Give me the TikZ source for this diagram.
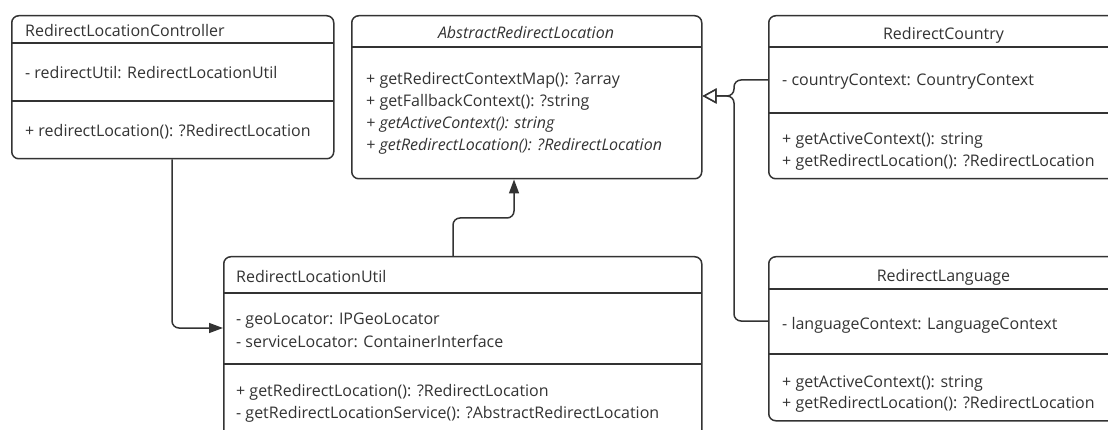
\documentclass[tikz,border=0pt]{standalone}
\usepackage{fontspec}
\setmainfont{Open Sans}
\usetikzlibrary{arrows.meta,calc}
\definecolor{ink}{HTML}{333333}
\begin{document}
\begin{tikzpicture}[x=1pt,y=-1pt,
  umlbox/.style={draw=ink, line width=1.5pt, rounded corners=7pt, inner sep=0pt, anchor=north west},
  txt/.style={anchor=base west, inner sep=0pt, text=ink, font=\fontsize{16}{22}\selectfont},
  ctxt/.style={txt, anchor=base},
  rule/.style={draw=ink, line width=1.5pt},
  conn/.style={draw=ink, line width=1.5pt, rounded corners=7pt},
  assoc/.style={conn, -{Triangle[length=14pt,width=10pt]}},
  inherit/.style={conn, -{Triangle[open, length=14pt, width=15pt, fill=white]}}
]
\useasboundingbox (0,0) rectangle (1108,430);
\clip (0,0) rectangle (1108,430);
\fill[white] (0,0) rectangle (1108,430);

% RedirectLocationController
\node[umlbox, minimum width=322pt, minimum height=143pt] (ctrl) at (11,15) {};
\draw[rule] (11,43) -- (333,43);
\draw[rule] (11,101) -- (333,101);
\node[txt] (ctrlT) at (25,37) {RedirectLocationController};
\node[txt] (ctrlA) at (25,79) {- redirectUtil: RedirectLocationUtil};
\node[txt] (ctrlM) at (25,137) {+ redirectLocation(): ?RedirectLocation};

% AbstractRedirectLocation
\node[umlbox, minimum width=350pt, minimum height=163pt] (abs) at (351,15) {};
\draw[rule] (351,47) -- (701,47);
\node[ctxt] (absT) at (526,39) {\itshape AbstractRedirectLocation};
\node[txt] (absM1) at (366,85) {+ getRedirectContextMap(): ?array};
\node[txt] (absM2) at (366,107) {+ getFallbackContext(): ?string};
\node[txt] (absM3) at (366,129) {\itshape + getActiveContext(): string};
\node[txt] (absM4) at (366,151) {\itshape + getRedirectLocation(): ?RedirectLocation};

% RedirectCountry
\node[umlbox, minimum width=351pt, minimum height=163pt] (country) at (768,15) {};
\draw[rule] (768,47) -- (1119,47);
\draw[rule] (768,113) -- (1119,113);
\node[ctxt] (countryT) at (943.5,40) {RedirectCountry};
\node[txt] (countryA) at (782,86) {- countryContext: CountryContext};
\node[txt] (countryM1) at (782,145) {+ getActiveContext(): string};
\node[txt] (countryM2) at (782,167) {+ getRedirectLocation(): ?RedirectLocation};

% RedirectLanguage
\node[umlbox, minimum width=351pt, minimum height=164pt] (lang) at (768,256) {};
\draw[rule] (768,289) -- (1119,289);
\draw[rule] (768,354) -- (1119,354);
\node[ctxt] (langT) at (943.5,282) {RedirectLanguage};
\node[txt] (langA) at (782,329) {- languageContext: LanguageContext};
\node[txt] (langM1) at (782,387) {+ getActiveContext(): string};
\node[txt] (langM2) at (782,408) {+ getRedirectLocation(): ?RedirectLocation};

% RedirectLocationUtil
\node[umlbox, minimum width=478pt, minimum height=189pt] (util) at (223,256) {};
\draw[rule] (223,293) -- (701,293);
\draw[rule] (223,364) -- (701,364);
\node[txt] (utilT) at (236,283) {RedirectLocationUtil};
\node[txt] (utilA1) at (236,324) {- geoLocator: IPGeoLocator};
\node[txt] (utilA2) at (236,347) {- serviceLocator: ContainerInterface};
\node[txt] (utilM1) at (236,396) {+ getRedirectLocation(): ?RedirectLocation};
\node[txt] (utilM2) at (236,418) {- getRedirectLocationService(): ?AbstractRedirectLocation};

% associations
\draw[assoc] ([xshift=161pt]ctrl.south west) |- ([yshift=-72pt]util.north west);
\draw[assoc] ([xshift=230pt]util.north west) -- ++(0,-38) -| ([xshift=163pt]abs.south west);

% generalisations, merged into one hollow head
\coordinate (join) at (734,96);
\coordinate (tip) at ([yshift=-81pt]abs.north east);
\draw[inherit] ([yshift=-65pt]country.north west) -| (join) -- (tip);
\draw[inherit] ([yshift=-65pt]lang.north west) -| (join) -- (tip);
\end{tikzpicture}
\end{document}
